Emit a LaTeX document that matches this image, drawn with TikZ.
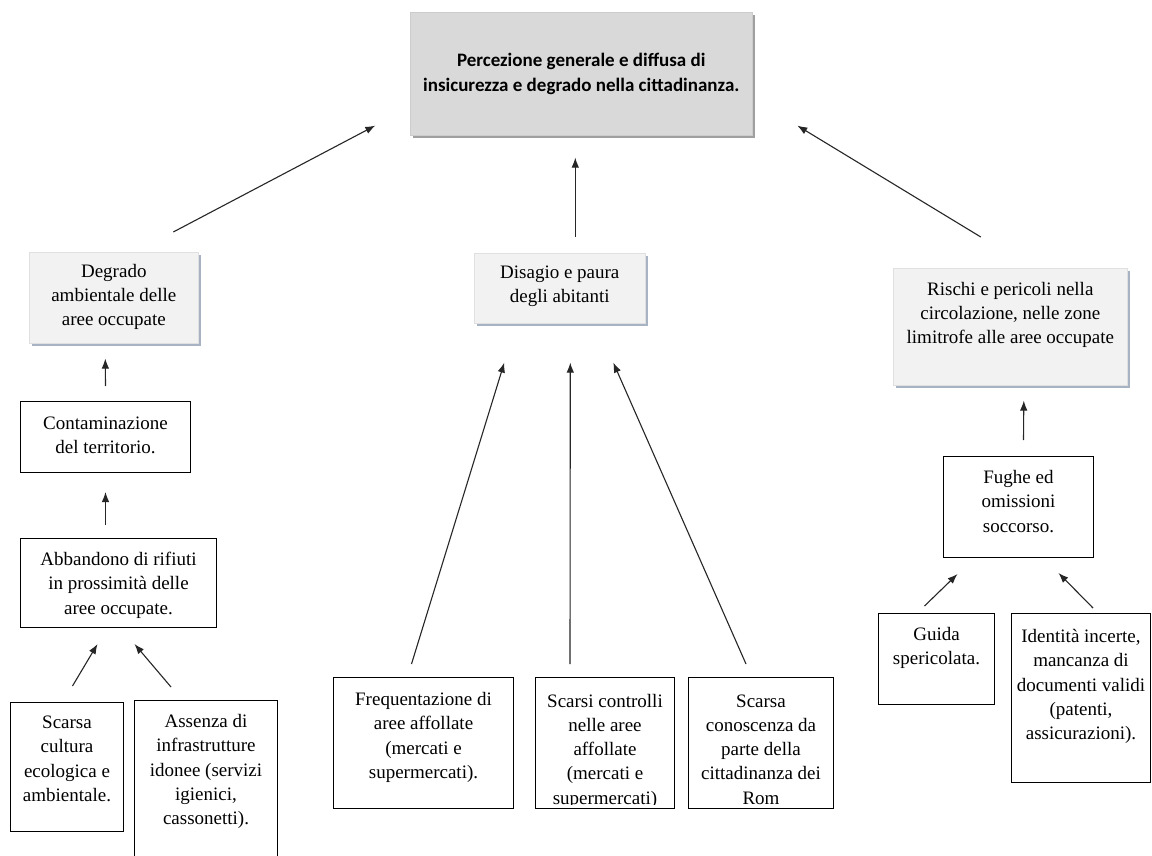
\documentclass[tikz,border=0pt]{standalone}
\usepackage{fontspec}
\setmainfont{Liberation Serif}
\newfontfamily\calib{Carlito}
\usetikzlibrary{arrows.meta,shadows}
\definecolor{topfill}{HTML}{D9D9D9}
\definecolor{topshadow}{HTML}{A0A0A0}
\definecolor{lightfill}{HTML}{F2F2F2}
\definecolor{lightshadow}{HTML}{A7B2C2}
\newcommand\bxt[4]{\parbox[c][#2pt][t]{#1pt}{\centering\vspace*{#3pt}\strut #4}}
\tikzset{
  txt/.style={font=\fontsize{19}{24.3}\selectfont},
  plainbox/.style={txt, draw=black, line width=1pt, fill=white, inner xsep=4pt, inner ysep=0pt, anchor=north west},
  lightbox/.style={txt, draw=black!12, line width=0.6pt, fill=lightfill, inner xsep=4pt, inner ysep=0pt, anchor=north west,
     drop shadow={shadow xshift=3pt, shadow yshift=-3pt, fill=lightshadow, opacity=1}},
  topbox/.style={draw=black!20, line width=0.6pt, fill=topfill, anchor=north west, align=center,
     minimum width=342pt, minimum height=123pt, inner sep=0pt,
     font=\calib\bfseries\fontsize{19}{25}\selectfont,
     drop shadow={shadow xshift=3pt, shadow yshift=-3pt, fill=topshadow, opacity=1}},
  arr/.style={-{Latex[length=10pt,width=7.5pt]}, line width=1.1pt, black!85},
  cliptext/.style={path picture={\clip ([yshift=4pt]path picture bounding box.south west) rectangle (path picture bounding box.north east);
      \node[txt, anchor=north, inner sep=0pt] at (path picture bounding box.north) {#1};}},
}
\begin{document}
\begin{tikzpicture}[x=1pt,y=-1pt]
\clip (0,0) rectangle (1152,856);
\fill[white] (0,0) rectangle (1152,856);
% top
\node[topbox] (top) at (410,12) {Percezione generale e diffusa di\\insicurezza e degrado nella cittadinanza.};
% left column
\node[lightbox] (degr) at (29,252) {\bxt{161}{91}{8}{Degrado\\ambientale delle\\aree occupate}};
\node[plainbox] (cont) at (20,401) {\bxt{162}{71}{11}{Contaminazione\\del territorio.}};
\node[plainbox] (abb) at (20,538) {\bxt{188}{89}{10}{Abbandono di rifiuti\\in prossimità delle\\aree occupate.}};
\node[plainbox] (cult) at (10,702) {\bxt{105}{129}{9}{Scarsa\\cultura\\ecologica e\\ambientale.}};
\node[plainbox] (ass) at (134,700) {\bxt{135}{170}{10}{Assenza di\\infrastrutture\\idonee (servizi\\igienici,\\cassonetti).}};
% middle
\node[lightbox] (dis) at (474,253) {\bxt{163}{70}{8}{Disagio e paura\\degli abitanti}};
\node[plainbox] (freq) at (333,677) {\bxt{172}{131}{11}{Frequentazione di\\aree affollate\\(mercati e\\supermercati).}};
\node[plainbox, cliptext={\bxt{131}{140}{12}{Scarsi controlli\\nelle aree\\affollate\\(mercati e\\supermercati)}}] (ctrl) at (535,677) {\parbox[c][131pt][t]{131pt}{\mbox{}}};
\node[plainbox, cliptext={\bxt{137}{140}{12}{Scarsa\\conoscenza da\\parte della\\cittadinanza dei\\Rom}}] (con) at (688,677) {\parbox[c][131pt][t]{137pt}{\mbox{}}};
% right
\node[lightbox] (risc) at (893,268) {\bxt{226}{117}{10}{Rischi e pericoli nella\\circolazione, nelle zone\\limitrofe alle aree occupate}};
\node[plainbox] (fug) at (943,456) {\bxt{142}{101}{10}{Fughe ed\\omissioni\\soccorso.}};
\node[plainbox] (guida) at (878,613) {\bxt{108}{91}{10}{Guida\\spericolata.}};
\node[plainbox] (ident) at (1011,613) {\bxt{131}{169}{12}{Identità incerte,\\mancanza di\\documenti validi\\(patenti,\\assicurazioni).}};
% arrows
\draw[arr] ([shift={(59.5,-20)}]degr.north) -- ([shift={(-206,-10)}]top.south);
\draw[arr] ([shift={(15.5,-16)}]dis.north) -- ([shift={(-6,22)}]top.south);
\draw[arr] ([shift={(-29.5,-31)}]risc.north) -- ([shift={(216,-10)}]top.south);
\draw[arr] ([shift={(0,-15)}]cont.north) -- ([shift={(-8.5,15)}]degr.south);
\draw[arr] ([shift={(-13,-13)}]abb.north) -- ([shift={(0,19)}]cont.south);
\draw[arr] ([shift={(5.5,-16)}]cult.north) -- ([shift={(-21,16)}]abb.south);
\draw[arr] ([shift={(-35,-13)}]ass.north) -- ([shift={(16,16)}]abb.south);
\draw[arr] ([shift={(-12,-13)}]freq.north) -- ([shift={(-55.5,39)}]dis.south);
\draw[arr] ([shift={(-35,-13)}]ctrl.north) -- ([shift={(10.5,39)}]dis.south);
\draw[arr] ([shift={(-15,-13)}]con.north) -- ([shift={(53.5,39)}]dis.south);
\draw[arr] ([shift={(5,-16)}]fug.north) -- ([shift={(13.5,15)}]risc.south);
\draw[arr] ([shift={(-12,-7)}]guida.north) -- ([shift={(-61,16)}]fug.south);
\draw[arr] ([shift={(12,-5)}]ident.north) -- ([shift={(40,15)}]fug.south);
\end{tikzpicture}
\end{document}
